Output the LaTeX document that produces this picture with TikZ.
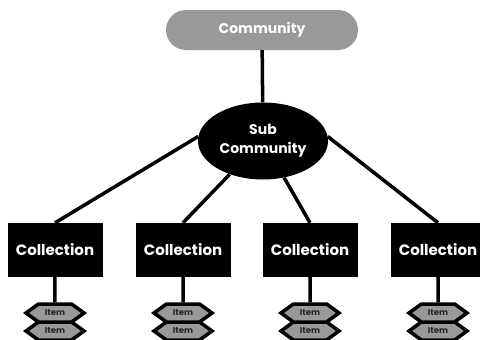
\documentclass[tikz,border=0pt]{standalone}
\usepackage{fontspec}
\setmainfont{Poppins}
\usepackage{xcolor}
\usetikzlibrary{shapes.geometric,shapes.symbols,positioning}

\definecolor{pillgray}{HTML}{999999}

\begin{document}
\begin{tikzpicture}[
  x=1pt, y=-1pt,
  top/.style={rectangle, rounded corners=20pt, fill=pillgray, minimum width=192pt, minimum height=40pt, text=white, font=\bfseries\fontsize{14}{16}\selectfont},
  subc/.style={ellipse, fill=black, minimum width=130pt, minimum height=77pt, inner sep=0pt, text=white, align=center, font=\bfseries\fontsize{14}{19}\selectfont},
  coll/.style={rectangle, fill=black, minimum width=95pt, minimum height=54pt, inner sep=0pt, text=white, font=\bfseries\fontsize{15}{17}\selectfont},
  item/.style={signal, signal to=west and east, signal pointer angle=72, draw=black, line width=3.5pt, fill=pillgray, minimum width=58pt, minimum height=18pt, inner sep=0pt, text=black!85, font=\bfseries\fontsize{8.5}{9}\selectfont},
  link/.style={line width=3.5pt}
]
\useasboundingbox (0,0) rectangle (480,340);

\node[top]  (comm) at (262,30)  {Community};
\node[subc] (sub)  at (263,141) {Sub\\Community};

\node[coll] (col1) at (55,250)  {Collection};
\node[coll] (col2) at (183,250) {Collection};
\node[coll] (col3) at (310,250) {Collection};
\node[coll] (col4) at (438,250) {Collection};

% lower items first, upper ones on top
\node[item] (itb1) at (55,331)  {Item};
\node[item] (ita1) at (55,313)  {Item};
\node[item] (itb2) at (183,331) {Item};
\node[item] (ita2) at (183,313) {Item};
\node[item] (itb3) at (310,331) {Item};
\node[item] (ita3) at (310,313) {Item};
\node[item] (itb4) at (438,331) {Item};
\node[item] (ita4) at (438,313) {Item};

\draw[link] (comm) -- (sub);
\draw[link] (sub.176) -- (col1.north);
\draw[link] (sub.225) -- (col2.north);
\draw[link] (sub.300) -- (col3.north);
\draw[link] (sub.4)   -- (col4.north);
\draw[link] (col1) -- (ita1); \draw[link] (col2) -- (ita2);
\draw[link] (col3) -- (ita3); \draw[link] (col4) -- (ita4);
\end{tikzpicture}
\end{document}
